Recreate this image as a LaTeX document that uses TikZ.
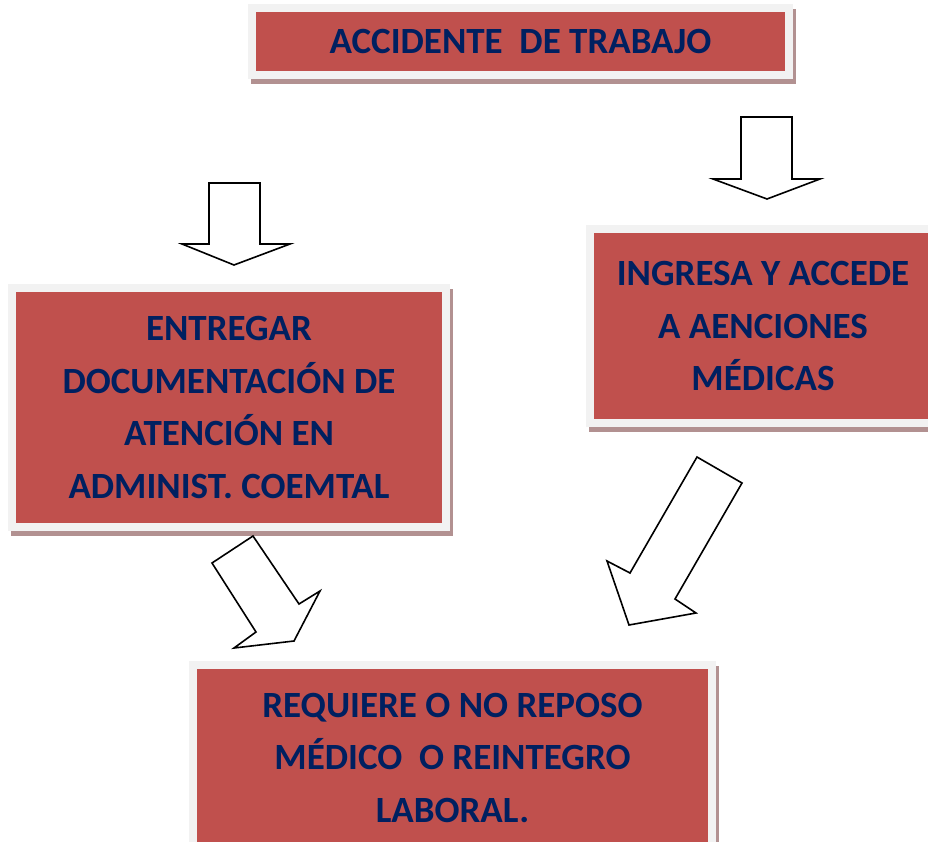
\documentclass[tikz,border=0pt]{standalone}
\usepackage{fontspec}
\setmainfont{Carlito}
\usepackage{tikz}

\definecolor{rojo}{RGB}{192,80,77}
\definecolor{marco}{RGB}{242,242,242}
\definecolor{sombra}{RGB}{178,145,145}
\definecolor{azul}{RGB}{0,32,96}

\tikzset{
  caja/.style={fill=rojo, draw=marco, line width=8pt, inner sep=0pt,
    text=azul, align=center, font=\fontsize{37}{52.5}\selectfont\bfseries,
    preaction={draw=sombra, line width=8pt, transform canvas={shift={(3pt,-5pt)}}}},
  flecha/.style={draw=black, fill=white, line width=1.6pt, line join=miter}
}

\begin{document}
\begin{tikzpicture}[x=1pt, y=-1pt]
\useasboundingbox (0,0) rectangle (928,842);

% cajas
\node[caja, minimum width=537pt, minimum height=67.5pt] (accidente) at (520.5,41.75) {ACCIDENTE~~DE TRABAJO};
\node[caja, minimum width=434pt, minimum height=239pt] (entregar) at (229,407.5) {ENTREGAR\\DOCUMENTACIÓN DE\\ATENCIÓN EN\\ADMINIST. COEMTAL};
\node[caja, minimum width=346pt, minimum height=194pt] (ingresa) at (763,326) {INGRESA Y ACCEDE\\A AENCIONES\\MÉDICAS};
\node[caja, minimum width=519pt, minimum height=185pt] (requiere) at (452.5,757.5) {REQUIERE O NO REPOSO\\MÉDICO~~O REINTEGRO\\LABORAL.};

% flechas
\draw[flecha] (209,183) -- (260,183) -- (260,244) -- (290,244) -- (234,265) -- (182,244) -- (209,244) -- cycle;
\draw[flecha] (741,117) -- (792,117) -- (792,179) -- (820,179) -- (767,199) -- (713,179) -- (741,179) -- cycle;
\draw[flecha] (212,563) -- (253,536) -- (299,604) -- (320,591) -- (294,641) -- (234,648) -- (256,632) -- cycle;
\draw[flecha] (697,457) -- (742,483) -- (675,599) -- (696,613) -- (629,625) -- (607,561) -- (630,573) -- cycle;
\end{tikzpicture}
\end{document}
